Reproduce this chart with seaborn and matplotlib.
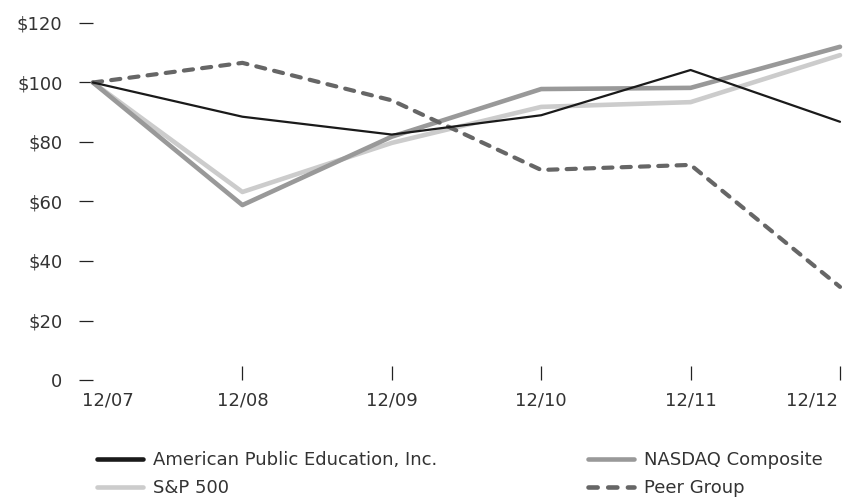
import pandas as pd
import seaborn as sns
import matplotlib.pyplot as plt
from matplotlib.lines import Line2D
from matplotlib.transforms import ScaledTranslation

# values (indexed, $100 start)
PERIODS = ["12/07", "12/08", "12/09", "12/10", "12/11", "12/12"]
APEI = [100, 88.5, 82.5, 89, 104.2, 86.8]
NASDAQ = [100, 58.8, 81.8, 97.8, 98.2, 112]
SP500 = [100, 63.2, 79.7, 91.8, 93.4, 109.2]
PEER = [100, 106.6, 94, 70.6, 72.3, 31.3]

Y_TICKS = [0, 20, 40, 60, 80, 100, 120]
Y_LABELS = ["0", "$20", "$40", "$60", "$80", "$100", "$120"]

SERIES = {
    "American Public Education, Inc.": APEI,
    "NASDAQ Composite": NASDAQ,
    "S&P 500": SP500,
    "Peer Group": PEER,
}

STYLES = {
    "S&P 500": dict(color="#cccccc", linewidth=3.3),
    "NASDAQ Composite": dict(color="#999999", linewidth=3.3),
    "Peer Group": dict(color="#666666", linewidth=3.0, dashes=(2.2, 2.2), dash_capstyle="round"),
    "American Public Education, Inc.": dict(color="#1a1a1a", linewidth=1.6),
}
DRAW_ORDER = ["S&P 500", "NASDAQ Composite", "Peer Group", "American Public Education, Inc."]
LEGEND_ORDER = ["American Public Education, Inc.", "S&P 500", "NASDAQ Composite", "Peer Group"]

TEXT = "#333333"


def build_frame():
    rows = []
    for name, vals in SERIES.items():
        for i, (p, v) in enumerate(zip(PERIODS, vals)):
            rows.append({"pos": i, "period": p, "value": v, "series": name})
    return pd.DataFrame(rows)


def legend_handle(name):
    st = STYLES[name]
    h = Line2D([], [], color=st["color"], linewidth=3.3,
               solid_capstyle="round", dash_capstyle="round")
    if "dashes" in st:
        h.set_dashes((2.0, 2.3))
    return h


def main():
    sns.set_style("white")
    df = build_frame()

    fig = plt.figure(figsize=(8.45, 4.99), dpi=100)
    ax = fig.add_axes([93 / 845, 1 - 380 / 499, (840 - 93) / 845, (380 - 23) / 499])

    for name in DRAW_ORDER:
        sub = df[df["series"] == name]
        sns.lineplot(data=sub, x="pos", y="value", ax=ax, label=name, clip_on=False,
                     solid_joinstyle="round", **STYLES[name])
    ax.get_legend().remove()

    ax.set_xlim(0, len(PERIODS) - 1)
    ax.set_ylim(0, 120)
    ax.set_xlabel("")
    ax.set_ylabel("")
    for s in ax.spines.values():
        s.set_visible(False)

    ax.set_yticks(Y_TICKS)
    ax.set_yticklabels(Y_LABELS)
    ax.set_xticks(range(len(PERIODS)))
    ax.set_xticklabels(PERIODS)
    ax.tick_params(axis="y", direction="out", length=10, width=0.9, pad=12,
                   labelsize=13, color="#222222", labelcolor=TEXT, left=True)
    ax.tick_params(axis="x", direction="in", length=10, width=0.9, pad=8,
                   labelsize=13, color="#222222", labelcolor=TEXT, bottom=True)

    # first period has no tick mark; end labels are nudged inward
    xticks = ax.xaxis.get_major_ticks()
    xticks[0].tick1line.set_visible(False)
    labels = ax.get_xticklabels()
    labels[0].set_transform(labels[0].get_transform() + ScaledTranslation(15 / 100, 0, fig.dpi_scale_trans))
    labels[-1].set_transform(labels[-1].get_transform() + ScaledTranslation(-28 / 100, 0, fig.dpi_scale_trans))

    fig.legend([legend_handle(n) for n in LEGEND_ORDER], LEGEND_ORDER,
               loc="upper left", bbox_to_anchor=(97 / 845, 1 - 451 / 499), ncol=2,
               frameon=False, fontsize=13, labelcolor=TEXT, handlelength=2.55,
               handletextpad=0.55, columnspacing=8.33, labelspacing=0.57,
               borderpad=0, borderaxespad=0)

    fig.savefig("out.png", dpi=100)


if __name__ == "__main__":
    main()
